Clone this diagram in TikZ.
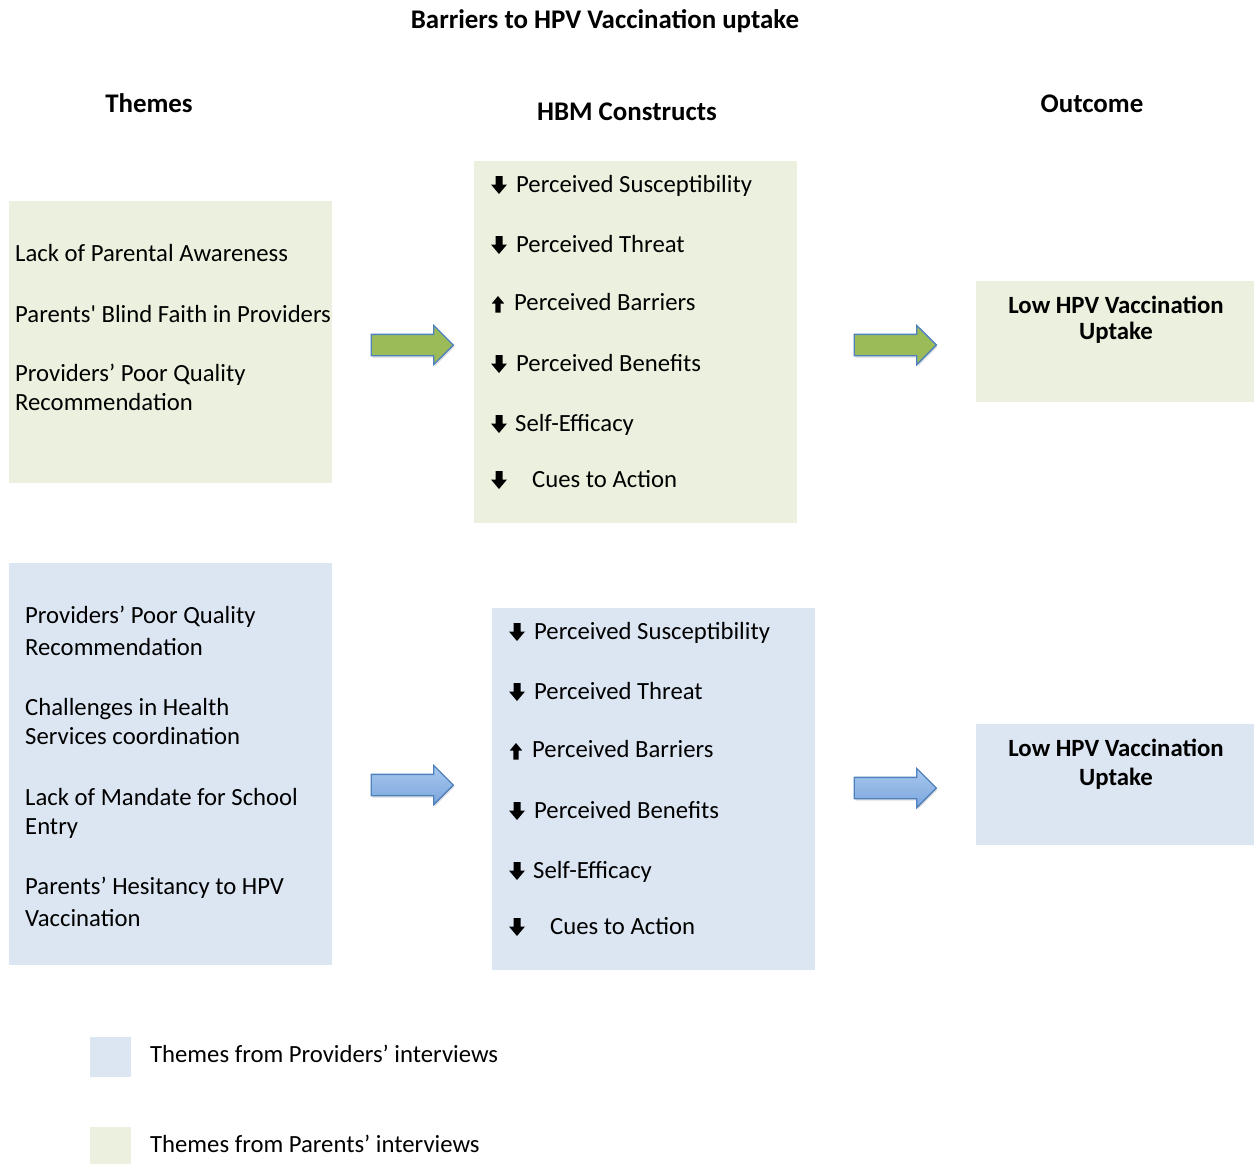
\documentclass[tikz,border=0pt]{standalone}
\usepackage{fontspec}
\setmainfont{Carlito}
\usetikzlibrary{shapes.arrows,shadows}

\definecolor{parentgreen}{HTML}{EBF1DE}
\definecolor{providerblue}{HTML}{DCE6F2}
\definecolor{arrowgreen}{HTML}{9BBB59}
\definecolor{arrowedge}{HTML}{4F81BD}
\definecolor{arrowtop}{HTML}{A9C8EE}
\definecolor{arrowbot}{HTML}{7AA6DD}

\tikzset{
  panel/.style={anchor=north west, inner sep=0pt, outer sep=0pt},
  txt/.style={anchor=base west, inner sep=0pt, font=\fontsize{24.7}{28}\selectfont},
  heading/.style={anchor=base, inner sep=0pt, font=\bfseries\fontsize{26.9}{30}\selectfont},
  result/.style={anchor=base, inner sep=0pt, font=\bfseries\fontsize{24.8}{28}\selectfont},
  bigarrow/.style={single arrow, draw=arrowedge, line width=1.3pt, inner xsep=0pt, inner ysep=10pt,
    minimum height=82pt, single arrow head extend=9pt,
    drop shadow={opacity=0.25, shadow xshift=1pt, shadow yshift=-2pt}},
  dn/.pic={\fill (0,0) -- (-8,-9.5) -- (-3.5,-9.5) -- (-3.5,-18) -- (3.5,-18) -- (3.5,-9.5) -- (8,-9.5) -- cycle;},
  up/.pic={\fill (0,0) -- (6.2,7.5) -- (2.6,7.5) -- (2.6,16.5) -- (-2.6,16.5) -- (-2.6,7.5) -- (-6.2,7.5) -- cycle;}
}

\begin{document}
\begin{tikzpicture}[x=1pt,y=-1pt]
\useasboundingbox (0,0) rectangle (1254,1164);

% headings
\node[heading] (title) at (605,29) {Barriers to HPV Vaccination uptake};
\node[heading] (themes) at (149,113) {Themes};
\node[heading] (hbm) at (627,121) {HBM Constructs};
\node[heading] (outcome) at (1092,113) {Outcome};

% panels
\node[panel, fill=parentgreen, minimum width=323pt, minimum height=282pt] (themesA) at (9,201) {};
\node[panel, fill=parentgreen, minimum width=323pt, minimum height=362pt] (hbmA) at (474,161) {};
\node[panel, fill=parentgreen, minimum width=278pt, minimum height=121pt] (outA) at (976,281) {};

\node[panel, fill=providerblue, minimum width=323pt, minimum height=402pt] (themesB) at (9,563) {};
\node[panel, fill=providerblue, minimum width=323pt, minimum height=362pt] (hbmB) at (492,608) {};
\node[panel, fill=providerblue, minimum width=278pt, minimum height=121pt] (outB) at (976,724) {};

% themes, parents
\foreach \i/\y/\t in {1/261/Lack of Parental Awareness, 2/322/Parents\textquotesingle\ Blind Faith in Providers,
    3/381/Providers’ Poor Quality, 4/410/Recommendation}
    \node[txt] (pa\i) at (15,\y) {\t};

% themes, providers
\foreach \i/\y/\t in {1/623/Providers’ Poor Quality, 2/655/Recommendation,
    3/715/Challenges in Health, 4/744/Services coordination,
    5/805/Lack of Mandate for School, 6/834/Entry,
    7/894/Parents’ Hesitancy to HPV, 8/926/Vaccination}
    \node[txt] (pr\i) at (25,\y) {\t};

% HBM constructs
\foreach \g/\dx/\dy in {a/0/0, b/18/447}
{
  \foreach \i/\y/\x/\t in {1/192/516/Perceived Susceptibility, 2/252/516/Perceived Threat,
      3/310/514/Perceived Barriers, 4/371/516/Perceived Benefits,
      5/431/515/Self-Efficacy, 6/487/532/Cues to Action}
    \node[txt] (hbm\g\i) at (\x+\dx,\y+\dy) {\t};
  \foreach \y in {192,252,371,431,487}
    \pic at (499+\dx,\y+\dy+2) {dn};
  \pic at (498+\dx,310+\dy-14) {up};
}

% outcomes
\node[result] (lowA1) at (1116,313) {Low HPV Vaccination};
\node[result] (lowA2) at (1116,339) {Uptake};
\node[result] (lowB1) at (1116,756) {Low HPV Vaccination};
\node[result] (lowB2) at (1116,785) {Uptake};

% block arrows
\node[bigarrow, fill=arrowgreen] (arrA1) at (407,345) {};
\node[bigarrow, fill=arrowgreen] (arrA2) at (890,345) {};
\node[bigarrow, top color=arrowtop, bottom color=arrowbot] (arrB1) at (407,785) {};
\node[bigarrow, top color=arrowtop, bottom color=arrowbot] (arrB2) at (890,788) {};

% legend
\node[panel, fill=providerblue, minimum width=41pt, minimum height=40pt] (keyB) at (90,1037) {};
\node[panel, fill=parentgreen, minimum width=41pt, minimum height=37pt] (keyA) at (90,1127) {};
\node[txt] (keyBtxt) at (150,1062) {Themes from Providers’ interviews};
\node[txt] (keyAtxt) at (150,1152) {Themes from Parents’ interviews};

\end{tikzpicture}
\end{document}
